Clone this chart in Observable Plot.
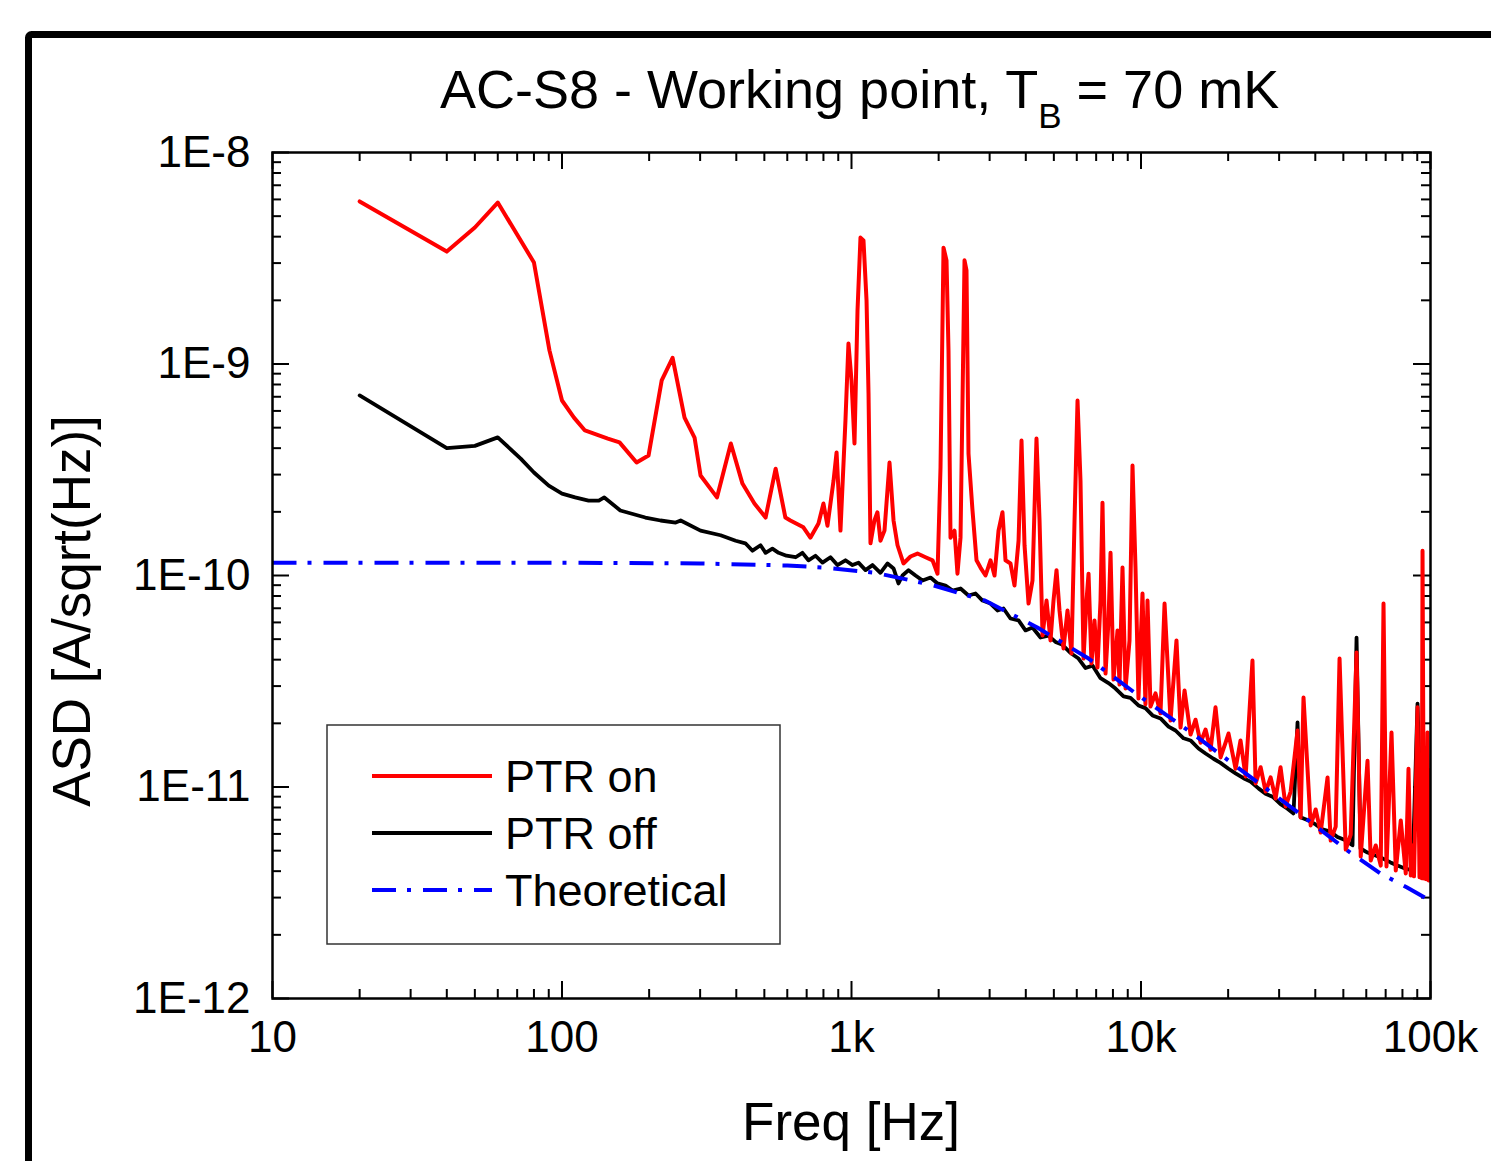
<!DOCTYPE html>
<html><head><meta charset="utf-8">
<script src="https://cdn.jsdelivr.net/npm/d3@7"></script>
<script src="https://cdn.jsdelivr.net/npm/@observablehq/plot@0.6"></script>
<style>
html,body{margin:0;padding:0;background:#fff;overflow:hidden;}
#chart{width:1491px;height:1161px;overflow:hidden;position:relative;}
</style></head><body><div id="chart"></div>
<script>
const titleMain = "AC-S8 - Working point, T";
const titleSub = "B";
const titleTail = " = 70 mK";
const xLabel = "Freq [Hz]";
const yLabel = "ASD [A/sqrt(Hz)]";
const xTicks = [10, 100, 1000, 10000, 100000];
const xTickLabels = ["10", "100", "1k", "10k", "100k"];
const yTicks = [1e-12, 1e-11, 1e-10, 1e-9, 1e-8];
const yTickLabels = ["1E-12", "1E-11", "1E-10", "1E-9", "1E-8"];
const seriesNames = ["PTR on", "PTR off", "Theoretical"];

// [frequency Hz, ASD A/sqrt(Hz)]
const ptrOn = [[20,5.87e-9],[40,3.40e-9],[50,4.42e-9],[60,5.80e-9],[80,3.02e-9],[90.5,1.16e-9],[100,6.72e-10],[110,5.58e-10],[120,4.85e-10],[144,4.44e-10],[158,4.26e-10],[181,3.42e-10],[199,3.69e-10],[221,8.36e-10],[241,1.07e-9],[265,5.58e-10],[287,4.49e-10],[301,2.97e-10],[343,2.34e-10],[383,4.21e-10],[420,2.72e-10],[462,2.19e-10],[505,1.88e-10],[547,3.20e-10],[591,1.88e-10],[615,1.82e-10],[682,1.69e-10],[721,1.51e-10],[769,1.76e-10],[800,2.19e-10],[826,1.72e-10],[867,2.81e-10],[888,3.82e-10],[916,1.63e-10],[953,5.40e-10],[976,1.25e-9],[1000,8.36e-10],[1024,4.21e-10],[1049,1.79e-9],[1074,3.96e-9],[1100,3.84e-9],[1127,2.0e-9],[1145,7.25e-10],[1163,1.42e-10],[1200,1.82e-10],[1229,1.99e-10],[1259,1.46e-10],[1300,1.63e-10],[1353,3.42e-10],[1397,1.82e-10],[1442,1.39e-10],[1512,1.14e-10],[1599,1.23e-10],[1690,1.27e-10],[1802,1.22e-10],[1905,1.18e-10],[1982,1.02e-10],[2030,3.24e-10],[2079,3.55e-9],[2129,3.09e-9],[2163,1.16e-9],[2198,1.51e-10],[2269,1.63e-10],[2323,1.02e-10],[2380,1.51e-10],[2418,6.72e-10],[2457,3.09e-9],[2496,2.77e-9],[2536,3.77e-10],[2618,2.03e-10],[2703,1.18e-10],[2790,1.09e-10],[2904,1.0e-10],[3021,1.18e-10],[3119,1.0e-10],[3220,1.63e-10],[3323,1.99e-10],[3404,1.18e-10],[3541,1.14e-10],[3656,8.97e-11],[3776,1.46e-10],[3866,4.35e-10],[3960,1.39e-10],[4088,7.37e-11],[4219,9.47e-11],[4355,4.44e-10],[4462,1.82e-10],[4570,5.2e-11],[4717,7.61e-11],[4869,4.93e-11],[4986,7.61e-11],[5107,1.06e-10],[5230,6.83e-11],[5399,4.52e-11],[5573,6.83e-11],[5754,4.28e-11],[5894,1.82e-10],[6036,6.72e-10],[6180,2.81e-10],[6331,4.05e-11],[6483,7.61e-11],[6588,1.02e-10],[6745,3.84e-11],[6908,6.13e-11],[7074,3.67e-11],[7247,7.61e-11],[7362,2.21e-10],[7541,3.44e-11],[7722,6.13e-11],[7848,1.28e-10],[8035,3.22e-11],[8296,5.50e-11],[8428,3.05e-11],[8632,1.09e-10],[8843,2.92e-11],[9127,4.93e-11],[9347,3.31e-10],[9572,1.09e-10],[9800,2.62e-11],[10120,8.22e-11],[10360,2.46e-11],[10530,7.61e-11],[10785,2.40e-11],[11223,2.77e-11],[11679,2.23e-11],[12060,7.37e-11],[12647,2.06e-11],[13260,4.93e-11],[13695,1.91e-11],[14140,2.86e-11],[14830,1.77e-11],[15432,2.08e-11],[16059,1.62e-11],[16711,1.87e-11],[17390,1.50e-11],[18090,2.38e-11],[18831,1.38e-11],[19596,1.62e-11],[20060,1.79e-11],[21220,1.22e-11],[22070,1.66e-11],[22979,1.12e-11],[24270,3.96e-11],[24883,1.04e-11],[25894,1.24e-11],[26945,9.52e-12],[28040,1.11e-11],[29178,8.82e-12],[30340,1.24e-11],[31597,8.09e-12],[32880,9.52e-12],[34730,1.85e-11],[35605,7.18e-12],[36420,2.65e-11],[38556,6.58e-12],[40122,7.83e-12],[41751,6.09e-12],[44090,1.11e-11],[45212,5.58e-12],[47048,6.50e-12],[48510,4.05e-11],[50947,5.06e-12],[53016,5.96e-12],[55530,4.32e-11],[57410,4.69e-12],[60590,1.33e-11],[62168,4.49e-12],[64693,5.29e-12],[67321,4.25e-12],[68820,7.37e-11],[70470,4.21e-12],[73340,1.81e-11],[75861,4.03e-12],[78942,6.94e-12],[82148,3.90e-12],[83950,1.22e-11],[85484,3.82e-12],[86600,5.29e-12],[87700,3.78e-12],[90190,2.38e-11],[91620,3.74e-12],[92700,1.33e-11],[93300,3.7e-12],[93860,1.31e-10],[94900,3.69e-12],[95800,1.07e-11],[96600,3.66e-12],[97640,1.81e-11],[98600,3.61e-12],[99300,1.2e-11],[100000,4.4e-12]];

const ptrOff = [[20,7.1e-10],[40,4.0e-10],[50,4.1e-10],[60,4.5e-10],[72,3.57e-10],[80,3.07e-10],[90,2.66e-10],[100,2.44e-10],[111,2.34e-10],[123.5,2.26e-10],[134,2.26e-10],[140,2.34e-10],[159,2.03e-10],[194,1.88e-10],[219,1.82e-10],[247,1.78e-10],[257,1.82e-10],[301,1.63e-10],[353,1.55e-10],[398,1.46e-10],[430,1.42e-10],[455,1.31e-10],[485,1.39e-10],[505,1.28e-10],[533,1.34e-10],[560,1.28e-10],[596,1.24e-10],[641,1.22e-10],[677,1.28e-10],[710,1.18e-10],[751,1.24e-10],[794,1.15e-10],[846,1.22e-10],[894,1.12e-10],[953,1.18e-10],[1008,1.12e-10],[1057,1.15e-10],[1118,1.06e-10],[1182,1.12e-10],[1259,1.03e-10],[1332,1.14e-10],[1397,1.08e-10],[1453,9.17e-11],[1500,1.0e-10],[1574,1.06e-10],[1664,1.0e-10],[1760,9.47e-11],[1875,9.78e-11],[1982,9.17e-11],[2112,8.97e-11],[2233,8.49e-11],[2380,8.68e-11],[2536,8.04e-11],[2682,8.22e-11],[2835,7.61e-11],[3021,7.37e-11],[3194,6.83e-11],[3350,6.98e-11],[3541,6.26e-11],[3776,6.13e-11],[3990,5.50e-11],[4219,5.68e-11],[4497,5.09e-11],[4790,5.2e-11],[5066,4.85e-11],[5356,4.7e-11],[5709,4.3e-11],[6084,4.05e-11],[6433,3.65e-11],[6800,3.75e-11],[7247,3.27e-11],[7722,3.1e-11],[8165,2.92e-11],[8704,2.68e-11],[9199,2.64e-11],[9800,2.43e-11],[10360,2.36e-11],[10960,2.18e-11],[11680,2.11e-11],[12450,1.93e-11],[13160,1.85e-11],[14030,1.70e-11],[14830,1.66e-11],[15800,1.52e-11],[16710,1.44e-11],[17800,1.36e-11],[18820,1.30e-11],[20060,1.22e-11],[21210,1.16e-11],[22600,1.10e-11],[23890,1.06e-11],[25460,9.85e-12],[26920,9.3e-12],[28460,9.0e-12],[30340,8.3e-12],[32060,7.9e-12],[33640,7.5e-12],[34730,2.02e-11],[35560,7.2e-12],[37900,6.95e-12],[40080,6.65e-12],[42370,6.3e-12],[45140,6.15e-12],[47730,5.8e-12],[50870,5.6e-12],[53780,5.3e-12],[55530,5.09e-11],[57320,5.12e-12],[60590,4.90e-12],[64570,4.74e-12],[68270,4.60e-12],[72780,4.40e-12],[76920,4.25e-12],[81990,4.11e-12],[86690,4.03e-12],[90190,2.48e-11],[93860,3.96e-12],[97640,3.82e-12],[100000,3.73e-12]];

const theoretical = [[10,1.15e-10],[100,1.15e-10],[300,1.14e-10],[600,1.115e-10],[800,1.09e-10],[1210,1.03e-10],[1875,9.06e-11],[2900,7.6e-11],[4385,5.68e-11],[6590,4.05e-11],[9800,2.71e-11],[14900,1.81e-11],[22600,1.18e-11],[34200,7.74e-12],[51700,5.0e-12],[67200,3.9e-12],[83000,3.35e-12],[100000,2.9e-12]];

const FONT = "'Liberation Sans', Arial, Helvetica, sans-serif";
const W = 1491, H = 1161, ML = 272, MR = 61, MT = 152, MB = 163;
const FW = W - ML - MR, FH = H - MT - MB;
const MAJ = 17, MIN = 9;

const xMinor = [];
for (const d of xTicks.slice(0, -1)) for (let k = 2; k <= 9; k++) xMinor.push(d * k);
const yMinor = [];
for (const d of yTicks.slice(0, -1)) for (let k = 2; k <= 9; k++) yMinor.push(d * k);

const lab = (ticks, labels) => d => {
  const i = ticks.findIndex(t => Math.abs(Math.log10(t) - Math.log10(d)) < 1e-6);
  return i >= 0 ? labels[i] : "";
};

const DASH = "24,11,4,12";
const tickStyle = {stroke: "black", strokeWidth: 2};
const svgEl = Plot.plot({
  width: W, height: H,
  marginLeft: ML, marginRight: MR, marginTop: MT, marginBottom: MB,
  style: {fontFamily: FONT, background: "white", color: "black"},
  x: {type: "log", domain: [10, 100000]},
  y: {type: "log", domain: [1e-12, 1e-8]},
  marks: [
    Plot.ruleX(xTicks, {x: d => d, insetTop: FH - MAJ, ...tickStyle}),
    Plot.ruleX(xTicks, {x: d => d, insetBottom: FH - MAJ, ...tickStyle}),
    Plot.ruleX(xMinor, {x: d => d, insetTop: FH - MIN, ...tickStyle}),
    Plot.ruleX(xMinor, {x: d => d, insetBottom: FH - MIN, ...tickStyle}),
    Plot.ruleY(yTicks, {y: d => d, insetRight: FW - MAJ, ...tickStyle}),
    Plot.ruleY(yTicks, {y: d => d, insetLeft: FW - MAJ, ...tickStyle}),
    Plot.ruleY(yMinor, {y: d => d, insetRight: FW - MIN, ...tickStyle}),
    Plot.ruleY(yMinor, {y: d => d, insetLeft: FW - MIN, ...tickStyle}),
    Plot.line(ptrOff, {x: d => d[0], y: d => d[1], stroke: "black", strokeWidth: 3.8, clip: true}),
    Plot.line(ptrOn, {x: d => d[0], y: d => d[1], stroke: "#ff0000", strokeWidth: 4, clip: true}),
    Plot.line(theoretical, {x: d => d[0], y: d => d[1], stroke: "#0000ff", strokeWidth: 4, strokeDasharray: DASH, strokeLinecap: "butt", clip: true}),
    Plot.frame({stroke: "black", strokeWidth: 2.5}),
    Plot.axisX(xTicks, {tickSize: 0, tickPadding: 22, fontSize: 44, tickFormat: lab(xTicks, xTickLabels), label: null}),
    Plot.axisY(yTicks, {tickSize: 0, tickPadding: 22, fontSize: 44, tickFormat: lab(yTicks, yTickLabels), label: null})
  ]
});

const svg = d3.select(svgEl);
svg.style("overflow", "hidden");

// outer figure border
svg.append("rect").attr("x", 28.5).attr("y", 34.5).attr("width", 1500).attr("height", 1200)
  .attr("rx", 3).attr("fill", "none").attr("stroke", "black").attr("stroke-width", 7);

// title
const t = svg.append("text").attr("x", 440).attr("y", 108).attr("font-size", 54)
  .attr("text-anchor", "start").attr("font-family", FONT).attr("fill", "black").style("white-space", "pre");
t.append("tspan").text(titleMain);
t.append("tspan").attr("font-size", 35).attr("dy", 20).text(titleSub);
t.append("tspan").attr("dy", -20).text(titleTail);

// axis labels
svg.append("text").attr("x", 851).attr("y", 1140).attr("text-anchor", "middle")
  .attr("font-size", 53).attr("font-family", FONT).attr("fill", "black").text(xLabel);
svg.append("text").attr("transform", "translate(90,611) rotate(-90)").attr("text-anchor", "middle")
  .attr("font-size", 53).attr("font-family", FONT).attr("fill", "black").text(yLabel);

// legend
const lg = svg.append("g");
lg.append("rect").attr("x", 327).attr("y", 725).attr("width", 453).attr("height", 219)
  .attr("fill", "white").attr("stroke", "#333").attr("stroke-width", 1.5);
const legendStyles = [
  {stroke: "#ff0000", dash: null},
  {stroke: "black", dash: null},
  {stroke: "#0000ff", dash: DASH}
];
const rowY = [776, 833, 890];
seriesNames.forEach((name, i) => {
  const ln = lg.append("line").attr("x1", 372).attr("x2", 492).attr("y1", rowY[i]).attr("y2", rowY[i])
    .attr("stroke", legendStyles[i].stroke).attr("stroke-width", 4);
  if (legendStyles[i].dash) ln.attr("stroke-dasharray", legendStyles[i].dash);
  lg.append("text").attr("x", 505).attr("y", rowY[i] + 16).attr("font-size", 45)
    .attr("text-anchor", "start").attr("font-family", FONT).attr("fill", "black").text(name);
});

document.getElementById("chart").appendChild(svgEl);
</script>
</body></html>
